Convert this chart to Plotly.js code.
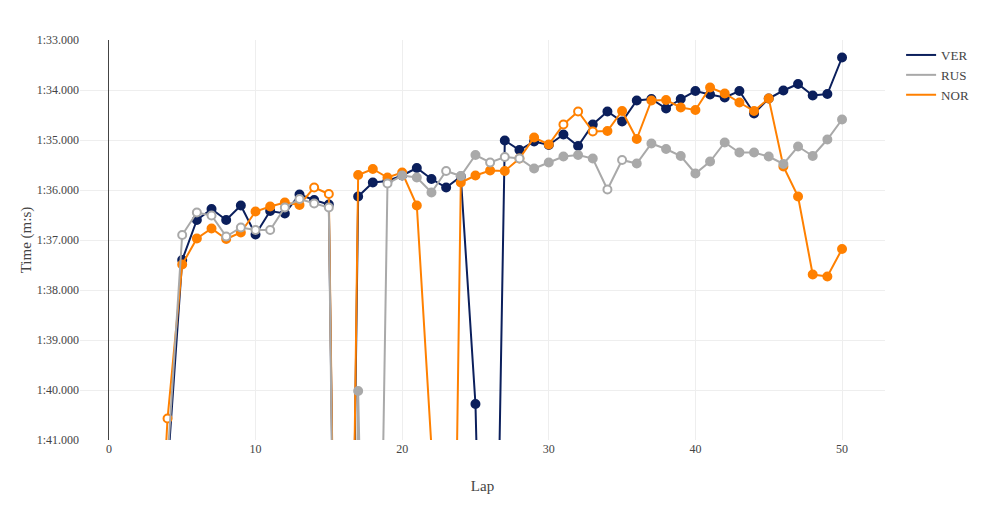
<!DOCTYPE html>
<html>
<head>
<meta charset="utf-8">
<script src="https://cdn.plot.ly/plotly-3.0.1.min.js"></script>
<style>html,body{margin:0;padding:0;background:#fff;}#chart{width:986px;height:520px;}</style>
</head>
<body>
<div id="chart"></div>
<script>
// Lap numbers
var laps = [];
for (var i = 1; i <= 50; i++) laps.push(i);

// Lap times in seconds (values off the visible range are pit / slow laps)
var verTimes = [110, 108, 107, 101.6, 97.4, 96.6, 96.38, 96.6, 96.31, 96.89,
  96.42, 96.47, 96.09, 96.2, 96.29, 118, 96.13, 95.85, 95.82, 95.71,
  95.56, 95.78, 95.95, 95.73, 100.28, 112, 95.01, 95.2, 95.03, 95.1,
  94.89, 95.12, 94.69, 94.43, 94.63, 94.21, 94.18, 94.37, 94.18, 94.02,
  94.09, 94.15, 94.02, 94.47, 94.17, 94.01, 93.88, 94.11, 94.08, 93.35];

var rusTimes = [111, 108, 107, 101.4, 96.9, 96.45, 96.51, 96.93, 96.75, 96.8,
  96.8, 96.35, 96.18, 96.27, 96.35, 120, 100.02, 114, 95.87, 95.71,
  95.75, 96.05, 95.62, 95.72, 95.3, 95.45, 95.34, 95.37, 95.57, 95.45,
  95.33, 95.3, 95.37, 95.99, 95.4, 95.47, 95.07, 95.18, 95.32, 95.67,
  95.43, 95.05, 95.25, 95.25, 95.33, 95.48, 95.13, 95.32, 94.99, 94.59];

var norTimes = [109, 108, 106, 100.57, 97.49, 96.97, 96.77, 96.98, 96.85, 96.43,
  96.33, 96.25, 96.3, 95.95, 96.08, 118, 95.7, 95.58, 95.75, 95.65,
  96.31, 101.15, 116.4, 95.85, 95.71, 95.61, 95.62, 95.37, 94.95, 95.09,
  94.69, 94.43, 94.83, 94.82, 94.42, 94.98, 94.21, 94.2, 94.35, 94.4,
  93.95, 94.07, 94.25, 94.42, 94.17, 95.53, 96.13, 97.69, 97.73, 97.18];

// Laps drawn with hollow markers
var verOpenLaps = [];
var rusOpenLaps = [5, 6, 7, 8, 9, 10, 11, 12, 13, 14, 15, 19, 23, 26, 27, 28, 34, 35];
var norOpenLaps = [4, 14, 15, 31, 32, 33];

// Y tick labels
var yTickVals = [93, 94, 95, 96, 97, 98, 99, 100, 101];
var yTickText = ['1:33.000', '1:34.000', '1:35.000', '1:36.000', '1:37.000',
  '1:38.000', '1:39.000', '1:40.000', '1:41.000'];

var colors = {VER: '#0b1f5c', RUS: '#a9a9a9', NOR: '#ff8000'};

function makeTrace(name, times, openLaps, color) {
  var fills = laps.map(function (l) { return openLaps.indexOf(l) >= 0 ? '#ffffff' : color; });
  return {
    x: laps, y: times, name: name, type: 'scatter', mode: 'lines+markers',
    showlegend: false,
    line: {color: color, width: 2},
    marker: {size: 8, color: fills, line: {color: color, width: 2}}
  };
}
function legendTrace(name, color, rank) {
  return {x: [null], y: [null], name: name, type: 'scatter', mode: 'lines',
    legendrank: rank, line: {color: color, width: 2}};
}

var data = [
  makeTrace('VER', verTimes, verOpenLaps, colors.VER),
  makeTrace('NOR', norTimes, norOpenLaps, colors.NOR),
  makeTrace('RUS', rusTimes, rusOpenLaps, colors.RUS),
  legendTrace('VER', colors.VER, 1),
  legendTrace('RUS', colors.RUS, 2),
  legendTrace('NOR', colors.NOR, 3)
];

var layout = {
  width: 986, height: 520,
  margin: {l: 80, r: 99, t: 40, b: 80},
  paper_bgcolor: '#fff', plot_bgcolor: '#fff',
  font: {family: 'Liberation Serif, Times New Roman, serif', size: 12, color: '#444'},
  showlegend: true,
  legend: {font: {size: 13, color: '#444'}, x: 1.02, y: 1, xanchor: 'left', yanchor: 'top'},
  xaxis: {
    range: [-1.97, 52.93], dtick: 10, tick0: 0,
    showgrid: true, gridcolor: '#eeeeee', gridwidth: 1,
    zeroline: true, zerolinecolor: '#444', zerolinewidth: 1,
    showline: false, ticks: '',
    title: {text: 'Lap', font: {size: 15, color: '#444'}, standoff: 25}
  },
  yaxis: {
    range: [101, 93], tickvals: yTickVals, ticktext: yTickText,
    showgrid: true, gridcolor: '#eeeeee', gridwidth: 1,
    zeroline: false, showline: false, ticks: '',
    title: {text: 'Time (m:s)', font: {size: 15, color: '#444'}}
  }
};

Plotly.newPlot('chart', data, layout, {displayModeBar: false, staticPlot: true});
</script>
</body>
</html>
